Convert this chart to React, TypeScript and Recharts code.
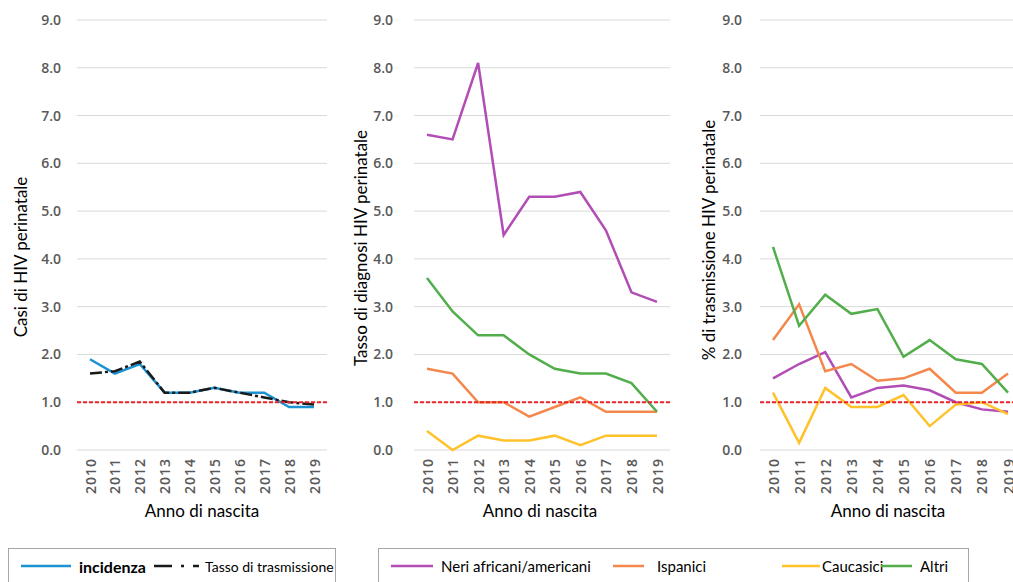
import { LineChart, Line, XAxis, YAxis, CartesianGrid, ReferenceLine } from "recharts"

const YEARS = ["2010", "2011", "2012", "2013", "2014", "2015", "2016", "2017", "2018", "2019"]
const Y_TICKS = [0, 1, 2, 3, 4, 5, 6, 7, 8, 9]

// panel 1
const INCIDENZA = [1.9, 1.6, 1.8, 1.2, 1.2, 1.3, 1.2, 1.2, 0.9, 0.9]
const TASSO_TRASM = [1.6, 1.65, 1.85, 1.2, 1.2, 1.3, 1.2, 1.1, 1.0, 0.95]

// panel 2 - tasso di diagnosi
const DIAG_NERI = [6.6, 6.5, 8.1, 4.5, 5.3, 5.3, 5.4, 4.6, 3.3, 3.1]
const DIAG_ISPANICI = [1.7, 1.6, 1.0, 1.0, 0.7, 0.9, 1.1, 0.8, 0.8, 0.8]
const DIAG_CAUCASICI = [0.4, 0.0, 0.3, 0.2, 0.2, 0.3, 0.1, 0.3, 0.3, 0.3]
const DIAG_ALTRI = [3.6, 2.9, 2.4, 2.4, 2.0, 1.7, 1.6, 1.6, 1.4, 0.8]

// panel 3 - % di trasmissione
const TRASM_NERI = [1.5, 1.8, 2.05, 1.1, 1.3, 1.35, 1.25, 1.0, 0.85, 0.8]
const TRASM_ISPANICI = [2.3, 3.05, 1.65, 1.8, 1.45, 1.5, 1.7, 1.2, 1.2, 1.6]
const TRASM_CAUCASICI = [1.2, 0.15, 1.3, 0.9, 0.9, 1.15, 0.5, 0.95, 1.0, 0.75]
const TRASM_ALTRI = [4.25, 2.6, 3.25, 2.85, 2.95, 1.95, 2.3, 1.9, 1.8, 1.2]

const BLUE = "#1b93d3"
const BLACK = "#1a1a1a"
const PURPLE = "#b24db6"
const ORANGE = "#f4874b"
const YELLOW = "#ffc22a"
const GREEN = "#52ae4b"
const RED = "#e8252a"

const TICK_FONT = "'Open Sans', 'Noto Sans', sans-serif"
const TITLE_FONT = "Lato, 'Noto Sans', sans-serif"

const panel1 = YEARS.map((year, i) => ({ year, incidenza: INCIDENZA[i], tasso: TASSO_TRASM[i] }))
const panel2 = YEARS.map((year, i) => ({
  year,
  neri: DIAG_NERI[i],
  ispanici: DIAG_ISPANICI[i],
  caucasici: DIAG_CAUCASICI[i],
  altri: DIAG_ALTRI[i],
}))
const panel3 = YEARS.map((year, i) => ({
  year,
  neri: TRASM_NERI[i],
  ispanici: TRASM_ISPANICI[i],
  caucasici: TRASM_CAUCASICI[i],
  altri: TRASM_ALTRI[i],
}))

function YearTick({ x, y, payload }: any) {
  return (
    <text
      x={x}
      y={y}
      transform={`rotate(-90 ${x} ${y})`}
      textAnchor="end"
      dominantBaseline="central"
      fill="#595959"
      fontFamily={TICK_FONT}
      fontWeight={600}
      fontSize={14}
      letterSpacing={1}
    >
      {payload.value}
    </text>
  )
}

function Panel({ data, left, width, yWidth, tickMargin, marginRight, children }: any) {
  return (
    <div style={{ position: "absolute", left, top: 0 }}>
      <LineChart width={width} height={520} data={data} margin={{ top: 20, right: marginRight, left: 0, bottom: 0 }}>
        <CartesianGrid vertical={false} stroke="#d9d9d9" strokeWidth={1} />
        <XAxis
          dataKey="year"
          height={70}
          axisLine={false}
          tickLine={false}
          tickSize={0}
          tickMargin={8}
          interval={0}
          padding={{ left: 13, right: 13 }}
          tick={<YearTick />}
        />
        <YAxis
          width={yWidth}
          domain={[0, 9]}
          ticks={Y_TICKS}
          interval={0}
          axisLine={false}
          tickLine={false}
          tickSize={0}
          tickMargin={tickMargin}
          tickFormatter={(v: number) => v.toFixed(1)}
          tick={{ fill: "#595959", fontSize: 14, fontWeight: 600, fontFamily: TICK_FONT }}
        />
        {children}
        <ReferenceLine y={1} stroke={RED} strokeWidth={2} strokeDasharray="4 2" />
      </LineChart>
    </div>
  )
}

function RotTitle({ x, y, text }: { x: number; y: number; text: string }) {
  return (
    <div
      style={{
        position: "absolute",
        left: x,
        top: y,
        transform: "translate(-50%, -50%) rotate(-90deg)",
        whiteSpace: "nowrap",
        fontFamily: TITLE_FONT,
        fontSize: 17,
        color: "#000",
      }}
    >
      {text}
    </div>
  )
}

function XTitle({ x }: { x: number }) {
  return (
    <div
      style={{
        position: "absolute",
        left: x,
        top: 510,
        transform: "translate(-50%, -50%)",
        whiteSpace: "nowrap",
        fontFamily: TITLE_FONT,
        fontSize: 17,
        color: "#000",
      }}
    >
      Anno di nascita
    </div>
  )
}

function Swatch({ x, w, color, dash }: { x: number; w: number; color: string; dash?: string }) {
  return (
    <svg style={{ position: "absolute", left: x, top: 14 }} width={w} height={6}>
      <line x1={0} y1={3} x2={w} y2={3} stroke={color} strokeWidth={2.5} strokeDasharray={dash} />
    </svg>
  )
}

function LegText({ x, text, bold, size }: { x: number; text: string; bold?: boolean; size: number }) {
  return (
    <div
      style={{
        position: "absolute",
        left: x,
        top: 17,
        transform: "translateY(-50%)",
        whiteSpace: "nowrap",
        fontFamily: TITLE_FONT,
        fontSize: size,
        fontWeight: bold ? 700 : 400,
        color: "#000",
      }}
    >
      {text}
    </div>
  )
}

export default function App() {
  return (
    <div
      style={{
        position: "absolute",
        left: 0,
        top: 0,
        width: 1013,
        height: 582,
        overflow: "hidden",
        background: "#fff",
      }}
    >
      <Panel data={panel1} left={0} width={340} yWidth={77} tickMargin={16} marginRight={13}>
        <Line type="linear" dataKey="incidenza" stroke={BLUE} strokeWidth={2.5} dot={false} isAnimationActive={false} />
        <Line
          type="linear"
          dataKey="tasso"
          stroke={BLACK}
          strokeWidth={2.5}
          strokeDasharray="12 3 3 3"
          dot={false}
          isAnimationActive={false}
        />
      </Panel>
      <Panel data={panel2} left={340} width={340} yWidth={74} tickMargin={21} marginRight={10}>
        <Line type="linear" dataKey="neri" stroke={PURPLE} strokeWidth={2.5} dot={false} isAnimationActive={false} />
        <Line type="linear" dataKey="ispanici" stroke={ORANGE} strokeWidth={2.5} dot={false} isAnimationActive={false} />
        <Line type="linear" dataKey="caucasici" stroke={YELLOW} strokeWidth={2.5} dot={false} isAnimationActive={false} />
        <Line type="linear" dataKey="altri" stroke={GREEN} strokeWidth={2.5} dot={false} isAnimationActive={false} />
      </Panel>
      <Panel data={panel3} left={680} width={345} yWidth={80} tickMargin={18} marginRight={4}>
        <Line type="linear" dataKey="neri" stroke={PURPLE} strokeWidth={2.5} dot={false} isAnimationActive={false} />
        <Line type="linear" dataKey="ispanici" stroke={ORANGE} strokeWidth={2.5} dot={false} isAnimationActive={false} />
        <Line type="linear" dataKey="caucasici" stroke={YELLOW} strokeWidth={2.5} dot={false} isAnimationActive={false} />
        <Line type="linear" dataKey="altri" stroke={GREEN} strokeWidth={2.5} dot={false} isAnimationActive={false} />
      </Panel>

      <RotTitle x={20} y={257} text="Casi di HIV perinatale" />
      <RotTitle x={360} y={248} text="Tasso di diagnosi HIV perinatale" />
      <RotTitle x={708} y={240} text="% di trasmissione HIV perinatale" />

      <XTitle x={202} />
      <XTitle x={540} />
      <XTitle x={888} />

      <div
        style={{
          position: "absolute",
          left: 8,
          top: 548,
          width: 326,
          height: 40,
          border: "1px solid #a6a6a6",
          overflow: "hidden",
        }}
      >
        <Swatch x={12} w={50} color={BLUE} />
        <LegText x={70} text="incidenza" bold size={16} />
        <Swatch x={145} w={50} color={BLACK} dash="18 9 3 9 6 10" />
        <LegText x={196} text="Tasso di trasmissione" size={14} />
      </div>

      <div
        style={{
          position: "absolute",
          left: 378,
          top: 548,
          width: 589,
          height: 40,
          border: "1px solid #a6a6a6",
        }}
      >
        <Swatch x={12} w={42} color={PURPLE} />
        <LegText x={62} text="Neri africani/americani" size={15} />
        <Swatch x={234} w={31} color={ORANGE} />
        <LegText x={278} text="Ispanici" size={15} />
        <Swatch x={403} w={38} color={YELLOW} />
        <LegText x={443} text="Caucasici" size={15} />
        <Swatch x={502} w={31} color={GREEN} />
        <LegText x={541} text="Altri" size={15} />
      </div>
    </div>
  )
}
